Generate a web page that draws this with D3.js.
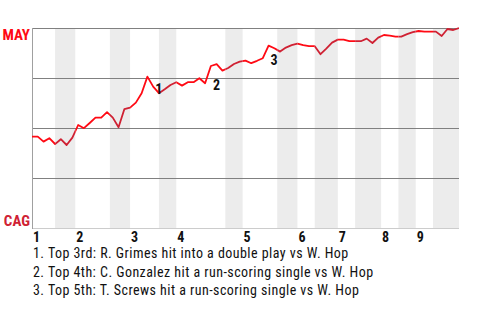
<!DOCTYPE html>
<html>
<head>
<meta charset="utf-8">
<script src="https://cdn.jsdelivr.net/npm/d3@7"></script>
<style>
  body { margin: 0; background: #fff; }
  text { font-family: "Liberation Sans Narrow", "Roboto Condensed", Roboto, sans-serif; }
</style>
</head>
<body>
<div id="chart"></div>
<script>
const layout = {
    width: 480,
    height: 320,
    marginLeft: 32,
    marginTop: 28,
    chartWidth: 427,
    chartHeight: 200
};

// win probability for MAY (%) after each event
const winProb = [45.7, 45.7, 43.2, 44.9, 42.0, 44.4, 41.5, 45.2, 51.5, 49.9,
    52.5, 55.2, 55.2, 57.9, 55.2, 50.4, 59.4, 60.2, 62.7, 67.4,
    75.7, 70.7, 67.4, 69.4, 71.5, 72.9, 71.2, 72.9, 72.9, 74.9,
    72.4, 81.0, 81.9, 78.7, 80.0, 82.0, 83.2, 83.7, 82.4, 83.6,
    84.9, 91.2, 89.9, 88.2, 90.2, 91.4, 92.2, 91.4, 90.9, 90.9,
    86.9, 89.7, 92.7, 94.2, 94.2, 93.4, 93.4, 93.4, 94.7, 92.5,
    95.2, 96.5, 96.2, 95.7, 95.7, 96.9, 97.9, 98.5, 98.2, 98.2,
    98.2, 96.0, 99.5, 99.0, 100];
// start of each half inning, in events
const halfStarts = [0, 4, 7.5, 13.5, 17, 22, 25, 33.5, 36.5, 42.5, 46, 49, 53, 56, 60.5, 63.5, 66.5, 69.5];
const gameEnd = 74;
const inningLabels = ["1", "2", "3", "4", "5", "6", "7", "8", "9"];
const gridTicks = [0, 25, 50, 75, 100];
const teamNames = ["MAY", "CAG"];
const teamColors = ["#ff0a14", "#cf2133"];
const noteEvents = [21, 31, 41];
const noteTexts = [
    "Top 3rd: R. Grimes hit into a double play vs W. Hop",
    "Top 4th: C. Gonzalez hit a run-scoring single vs W. Hop",
    "Top 5th: T. Screws hit a run-scoring single vs W. Hop"
];

let svg = d3.select("#chart").append("svg")
    .attr("width", layout.width)
    .attr("height", layout.height);

let xScale = d3.scaleLinear()
    .domain([0, gameEnd])
    .range([layout.marginLeft, layout.marginLeft + layout.chartWidth]);
let yScale = d3.scaleLinear()
    .domain([0, 100])
    .range([layout.marginTop + layout.chartHeight, layout.marginTop]);

// half innings, bottom halves shaded
let halves = halfStarts.map((s, i) => ({
    start: s,
    end: i < halfStarts.length - 1 ? halfStarts[i + 1] : gameEnd,
    bottom: i % 2 == 1
}));

svg.append("g").selectAll("rect")
    .data(halves.filter(d => d.bottom))
    .join("rect")
    .attr("x", d => xScale(d.start))
    .attr("y", yScale(100))
    .attr("width", d => xScale(d.end) - xScale(d.start))
    .attr("height", yScale(0) - yScale(100))
    .attr("fill", "#ececec");

// grid lines
svg.append("g").selectAll("line")
    .data(gridTicks)
    .join("line")
    .attr("x1", xScale(0))
    .attr("x2", xScale(gameEnd))
    .attr("y1", d => Math.round(yScale(d)) + 0.5)
    .attr("y2", d => Math.round(yScale(d)) + 0.5)
    .attr("stroke", d => d == 0 ? "#cccccc" : "#808080")
    .attr("stroke-width", 1);

svg.append("line")
    .attr("x1", xScale(0) + 0.5)
    .attr("x2", xScale(0) + 0.5)
    .attr("y1", yScale(100))
    .attr("y2", yScale(0) + 1)
    .attr("stroke", "#a0a0a0");

// clip the line by half inning so each side gets its colour
let defs = svg.append("defs");
["top", "bot"].forEach((k, j) => {
    defs.append("clipPath").attr("id", "clip-" + k)
        .selectAll("rect")
        .data(halves.filter(d => d.bottom == (j == 1)))
        .join("rect")
        .attr("x", d => xScale(d.start))
        .attr("y", 0)
        .attr("width", d => xScale(d.end) - xScale(d.start))
        .attr("height", layout.height);
});

let line = d3.line()
    .x((d, i) => xScale(i))
    .y(d => yScale(d));

["top", "bot"].forEach((k, j) => {
    svg.append("path")
        .datum(winProb)
        .attr("clip-path", `url(#clip-${k})`)
        .attr("fill", "none")
        .attr("stroke", teamColors[j])
        .attr("stroke-width", 1.8)
        .attr("stroke-linejoin", "round")
        .attr("d", line);
});

// team labels
svg.append("text")
    .attr("x", 30)
    .attr("y", yScale(100) + 12)
    .attr("text-anchor", "end")
    .attr("font-size", 15)
    .attr("font-weight", "bold")
    .attr("fill", teamColors[0])
    .text(teamNames[0]);
svg.append("text")
    .attr("x", 30)
    .attr("y", yScale(0) - 2)
    .attr("text-anchor", "end")
    .attr("font-size", 15)
    .attr("font-weight", "bold")
    .attr("fill", teamColors[1])
    .text(teamNames[1]);

// inning numbers
svg.append("g").selectAll("text")
    .data(halves.filter(d => !d.bottom))
    .join("text")
    .attr("x", d => xScale(d.start) + 1)
    .attr("y", yScale(0) + 14)
    .attr("font-size", 14)
    .attr("font-weight", "bold")
    .attr("fill", "#111")
    .text((d, i) => inningLabels[i]);

// event markers on the line
svg.append("g").selectAll("text")
    .data(noteEvents)
    .join("text")
    .attr("x", d => xScale(d) + 2)
    .attr("y", d => yScale(Math.min(winProb[d - 1], winProb[d])) + 7)
    .attr("font-size", 14)
    .attr("font-weight", "bold")
    .attr("fill", "#111")
    .text((d, i) => i + 1);

// notes below
svg.append("g").selectAll("text")
    .data(noteTexts)
    .join("text")
    .attr("x", xScale(0) + 1)
    .attr("y", (d, i) => 258 + i * 18.5)
    .attr("font-size", 14)
    .attr("letter-spacing", 0.45)
    .attr("fill", "#111")
    .text((d, i) => (i + 1) + ". " + d);
</script>
</body>
</html>
